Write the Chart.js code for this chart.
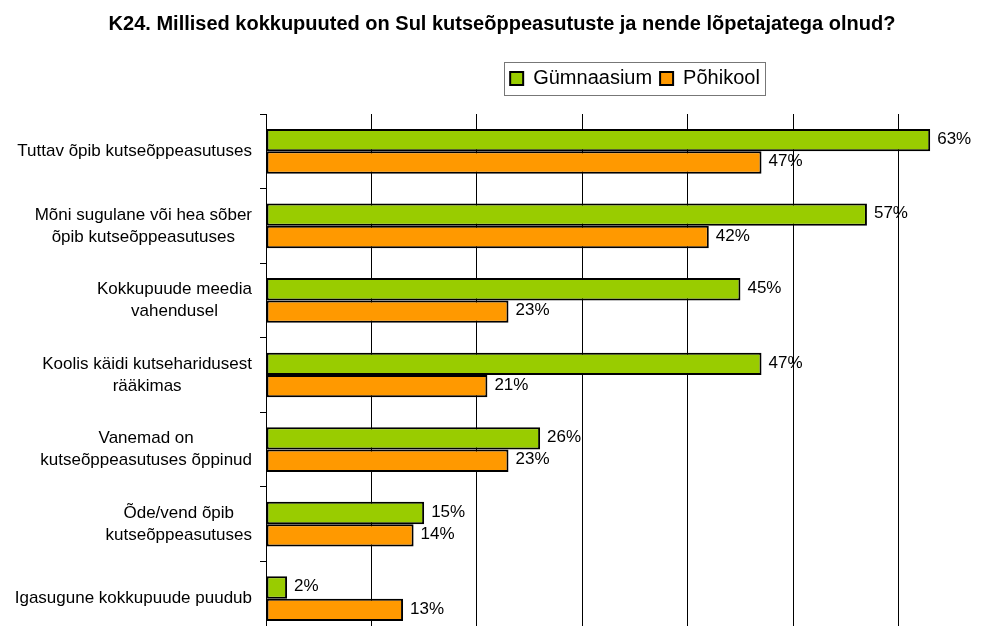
<!DOCTYPE html>
<html>
<head>
<meta charset="utf-8">
<script src="https://cdn.jsdelivr.net/npm/chart.js@4/dist/chart.umd.min.js"></script>
<style>
  html, body { margin: 0; padding: 0; overflow: hidden; background: #fff; }
  canvas { display: block; }
</style>
</head>
<body>
<canvas id="myChart" width="1010" height="640"></canvas>
<script>
const categories = [
    ['Tuttav õpib kutseõppeasutuses'],
    ['Mõni sugulane või hea sõber', 'õpib kutseõppeasutuses'],
    ['Kokkupuude meedia', 'vahendusel'],
    ['Koolis käidi kutseharidusest', 'rääkimas'],
    ['Vanemad on', 'kutseõppeasutuses õppinud'],
    ['Õde/vend õpib', 'kutseõppeasutuses'],
    ['Igasugune kokkupuude puudub']
];
const gymnaasium = [63, 57, 45, 47, 26, 15, 2];
const pohikool = [47, 42, 23, 21, 23, 14, 13];
const xMin = 0;
const xMax = 70;
const xStep = 10;

const FONT = '"Liberation Sans", Arial, sans-serif';

// category labels: block right aligned, lines centered inside it (like Excel)
const categoryLabels = {
    id: 'categoryLabels',
    afterDraw(chart) {
        const ctx = chart.ctx;
        const yScale = chart.scales.y;
        const right = chart.chartArea.left - 14;
        const lineH = 22;
        ctx.save();
        ctx.font = '17px ' + FONT;
        ctx.fillStyle = '#000';
        ctx.textAlign = 'center';
        ctx.textBaseline = 'middle';
        categories.forEach((lines, i) => {
            const y = yScale.getPixelForValue(i);
            const w = Math.max(...lines.map(l => ctx.measureText(l).width));
            const cx = right - w / 2;
            const y0 = y - (lines.length - 1) * lineH / 2;
            lines.forEach((l, j) => ctx.fillText(l, cx, y0 + j * lineH));
        });
        ctx.restore();
    }
};

// value labels at the end of bars
const valueLabels = {
    id: 'valueLabels',
    afterDatasetsDraw(chart) {
        const ctx = chart.ctx;
        ctx.save();
        ctx.font = '17px ' + FONT;
        ctx.fillStyle = '#000';
        ctx.textAlign = 'left';
        ctx.textBaseline = 'middle';
        chart.data.datasets.forEach((ds, di) => {
            chart.getDatasetMeta(di).data.forEach((bar, i) => {
                ctx.fillText(ds.data[i] + '%', bar.x + 7, bar.y - 1);
            });
        });
        ctx.restore();
    }
};

// frame around the legend
const legendFrame = {
    id: 'legendFrame',
    afterDraw(chart) {
        const boxes = chart.legend.legendHitBoxes;
        if (!boxes || !boxes.length) return;
        const first = boxes[0];
        const last = boxes[boxes.length - 1];
        const ctx = chart.ctx;
        ctx.save();
        ctx.strokeStyle = '#777';
        ctx.lineWidth = 1;
        const x0 = Math.round(first.left - 6) + 0.5;
        const x1 = Math.round(last.left + last.width + 5) + 0.5;
        const y0 = Math.round(first.top - 7) + 0.5;
        const y1 = Math.round(first.top + first.height + 6) + 0.5;
        ctx.strokeRect(x0, y0, x1 - x0, y1 - y0);
        ctx.restore();
    }
};

const ctx = document.getElementById('myChart').getContext('2d');
new Chart(ctx, {
    type: 'bar',
    data: {
        labels: categories,
        datasets: [
            {
                label: 'Gümnaasium',
                data: gymnaasium,
                backgroundColor: '#99cc00',
                borderColor: '#000',
                borderWidth: 2,
                borderSkipped: false,
                categoryPercentage: 0.6,
                barPercentage: 1.0
            },
            {
                label: 'Põhikool',
                data: pohikool,
                backgroundColor: '#ff9900',
                borderColor: '#000',
                borderWidth: 2,
                borderSkipped: false,
                categoryPercentage: 0.6,
                barPercentage: 1.0
            }
        ]
    },
    options: {
        indexAxis: 'y',
        responsive: false,
        animation: false,
        layout: { padding: { left: 0, right: 6, top: 0, bottom: 4 } },
        plugins: {
            title: {
                display: true,
                text: 'K24. Millised kokkupuuted on Sul kutseõppeasutuste ja nende lõpetajatega olnud?',
                color: '#000',
                font: { family: FONT, size: 20, weight: 'bold', lineHeight: 1.2 },
                padding: { top: 12, bottom: 24.6 }
            },
            legend: {
                position: 'top',
                fullSize: false,
                labels: {
                    color: '#000',
                    font: { family: FONT, size: 20 },
                    boxWidth: 13,
                    boxHeight: 13,
                    padding: 8
                }
            },
            tooltip: { enabled: false }
        },
        scales: {
            x: {
                position: 'top',
                min: xMin,
                max: xMax,
                ticks: { display: false, stepSize: xStep },
                grid: { color: '#000', lineWidth: 1, drawTicks: false },
                border: { display: false },
                afterFit(scale) { scale.height = 15.4; }
            },
            y: {
                ticks: { display: false },
                grid: { drawOnChartArea: false, color: '#000', tickLength: 6, offset: true },
                border: { display: true, color: '#000', width: 1 },
                afterFit(scale) { scale.width = 266; }
            }
        }
    },
    plugins: [categoryLabels, valueLabels, legendFrame]
});
</script>
</body>
</html>
